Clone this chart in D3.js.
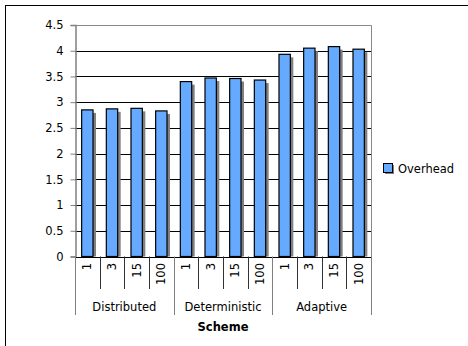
<!DOCTYPE html>
<html>
<head>
<meta charset="utf-8">
<script src="https://cdn.jsdelivr.net/npm/d3@7"></script>
<style>
  html, body { margin: 0; padding: 0; background: #fff; }
  svg { display: block; font-family: "DejaVu Sans", Verdana, sans-serif; }
</style>
</head>
<body>
<svg id="chart" width="468" height="346"></svg>
<script>
// Scheme groups and the run counts within each group
const groups = ["Distributed", "Deterministic", "Adaptive"];
const runs = ["1", "3", "15", "100"];
// Overhead per (group, run), in the order above
const overhead = [
  2.85, 2.87, 2.88, 2.83,
  3.40, 3.47, 3.46, 3.43,
  3.93, 4.05, 4.08, 4.03
];
const yTicks = [0, 0.5, 1, 1.5, 2, 2.5, 3, 3.5, 4, 4.5];
const seriesName = "Overhead";
const axisTitle = "Scheme";

const rows = [];
groups.forEach((g, gi) => runs.forEach((r, ri) => {
  rows.push({ key: g + "|" + r, group: g, run: r, value: overhead[gi * runs.length + ri] });
}));

const svg = d3.select("#chart");
const plot = { left: 75, right: 371, top: 25, bottom: 256.5 };

// outer chart frame
svg.append("rect")
  .attr("x", 5.5).attr("y", 5.5)
  .attr("width", 480).attr("height", 360)
  .attr("fill", "none").attr("stroke", "#000").attr("stroke-width", 1);

const x = d3.scaleBand().domain(rows.map(d => d.key)).range([plot.left, plot.right]).padding(0);
const y = d3.scaleLinear().domain([0, 4.5]).range([plot.bottom, plot.top]);
const barW = x.bandwidth() * 0.46;

// gridlines
svg.append("g").selectAll("line").data(yTicks.filter(t => t > 0 && t < 4.5)).join("line")
  .attr("x1", plot.left).attr("x2", plot.right)
  .attr("y1", d => Math.round(y(d)) + 0.5).attr("y2", d => Math.round(y(d)) + 0.5)
  .attr("stroke", "#000").attr("stroke-width", 1);

// plot border (top + right)
svg.append("path")
  .attr("d", `M${plot.left},${Math.round(y(4.5)) + 0.5}H${plot.right + 0.5}V${Math.round(plot.bottom) + 0.5}`)
  .attr("fill", "none").attr("stroke", "#888").attr("stroke-width", 1);

// bars: shadow then bar
const bars = svg.append("g");
bars.selectAll("rect.shadow").data(rows).join("rect")
  .attr("class", "shadow")
  .attr("x", d => x(d.key) + (x.bandwidth() - barW) / 2 + 3)
  .attr("y", d => y(d.value) + 3)
  .attr("width", barW)
  .attr("height", d => plot.bottom - y(d.value) - 3)
  .attr("fill", "#808080");
bars.selectAll("rect.bar").data(rows).join("rect")
  .attr("class", "bar")
  .attr("x", d => x(d.key) + (x.bandwidth() - barW) / 2)
  .attr("y", d => y(d.value))
  .attr("width", barW)
  .attr("height", d => plot.bottom - y(d.value))
  .attr("fill", "#66aaff").attr("stroke", "#000").attr("stroke-width", 1.2);

// y axis
const yAxis = svg.append("g")
  .attr("transform", `translate(${plot.left + 0.5},0)`)
  .call(d3.axisLeft(y).tickValues(yTicks).tickSize(5).tickPadding(7).tickFormat(d3.format("")));
yAxis.select(".domain").attr("stroke", "#808080").attr("stroke-width", 1.5);
yAxis.selectAll(".tick line").attr("stroke", "#808080");
yAxis.selectAll(".tick text").attr("font-size", 11.5).attr("fill", "#000")
  .attr("font-family", "DejaVu Sans, Verdana, sans-serif");

// x axis baseline
svg.append("line")
  .attr("x1", plot.left).attr("x2", plot.right)
  .attr("y1", Math.round(plot.bottom) + 0.5).attr("y2", Math.round(plot.bottom) + 0.5)
  .attr("stroke", "#000").attr("stroke-width", 1);

// separators between run labels (short) and between groups (long)
const step = x.step();
const seps = d3.range(rows.length + 1);
svg.append("g").selectAll("line").data(seps).join("line")
  .attr("x1", i => Math.round(plot.left + i * step) + 0.5)
  .attr("x2", i => Math.round(plot.left + i * step) + 0.5)
  .attr("y1", plot.bottom)
  .attr("y2", i => (i % runs.length === 0) ? 315 : 289)
  .attr("stroke", i => (i % runs.length === 0) ? "#808080" : "#333")
  .attr("stroke-width", 1);

// rotated run labels
svg.append("g").selectAll("text").data(rows).join("text")
  .attr("transform", d => `translate(${x(d.key) + x.bandwidth() / 2 + 4},263) rotate(-90)`)
  .attr("text-anchor", "end")
  .attr("font-size", 11.5)
  .text(d => d.run);

// group labels
const gBand = d3.scaleBand().domain(groups).range([plot.left, plot.right]);
svg.append("g").selectAll("text").data(groups).join("text")
  .attr("x", g => gBand(g) + gBand.bandwidth() / 2)
  .attr("y", 311)
  .attr("text-anchor", "middle")
  .attr("font-size", 11.5)
  .text(g => g);

// axis title
svg.append("text")
  .attr("x", (plot.left + plot.right) / 2)
  .attr("y", 331)
  .attr("text-anchor", "middle")
  .attr("font-size", 11.5).attr("font-weight", "bold")
  .text(axisTitle);

// legend
const lg = svg.append("g").attr("transform", "translate(383,163)");
lg.append("rect").attr("x", 2).attr("y", 2).attr("width", 9).attr("height", 9).attr("fill", "#808080");
lg.append("rect").attr("x", 0.5).attr("y", 0.5).attr("width", 9).attr("height", 9)
  .attr("fill", "#66aaff").attr("stroke", "#000");
lg.append("text").attr("x", 15).attr("y", 9.5).attr("font-size", 11.5).text(seriesName);
</script>
</body>
</html>
